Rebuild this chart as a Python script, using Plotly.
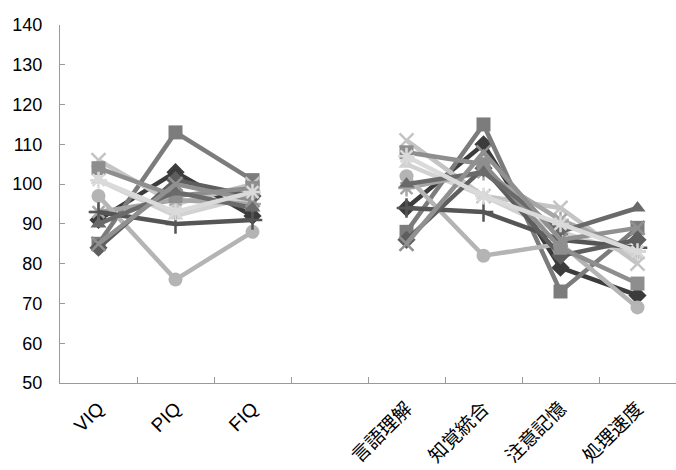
import plotly.graph_objects as go

# Category axis: IQ scores, a spacer slot, then the four index scores
categories = ["VIQ", "PIQ", "FIQ", "", "言語理解", "知覚統合", "注意記憶", "処理速度"]

# One profile per case: VIQ, PIQ, FIQ | 言語理解, 知覚統合, 注意記憶, 処理速度
case01 = [91, 103, 92, None, 94, 110, 79, 72]
case02 = [85, 113, 101, None, 88, 115, 73, 89]
case03 = [101, 92, 97, None, 105, 97, 88, 82]
case04 = [106, 95, 100, None, 111, 97, 94, 80]
case05 = [93, 96, 95, None, 99, 103, 91, 83]
case06 = [97, 76, 88, None, 102, 82, 85, 69]
case07 = [93, 90, 91, None, 94, 93, 86, 84]
case08 = [84, 101, 97, None, 86, 104, 82, 86]
case09 = [104, 97, 99, None, 108, 105, 84, 75]
case10 = [90, 98, 94, None, 100, 103, 88, 94]
case11 = [85, 100, 96, None, 85, 108, 86, 89]
case12 = [101, 93, 98, None, 107, 97, 90, 83]

series = [
    ("case01", case01, "diamond", "#3c3c3c", False),
    ("case02", case02, "square", "#7c7c7c", False),
    ("case03", case03, "triangle-up", "#d2d2d2", False),
    ("case04", case04, "x-thin-open", "#c4c4c4", True),
    ("case05", case05, "asterisk-open", "#a6a6a6", True),
    ("case06", case06, "circle", "#b4b4b4", False),
    ("case07", case07, "cross-thin-open", "#555555", True),
    ("case08", case08, "diamond", "#5e5e5e", False),
    ("case09", case09, "square", "#8e8e8e", False),
    ("case10", case10, "triangle-up", "#6a6a6a", False),
    ("case11", case11, "x-thin-open", "#909090", True),
    ("case12", case12, "asterisk-open", "#dadada", True),
]

x_pos = list(range(len(categories)))

fig = go.Figure()
for name, vals, sym, col, is_open in series:
    marker = dict(symbol=sym, size=14, color=col)
    if is_open:
        marker["line"] = dict(color=col, width=2.5)
    fig.add_trace(go.Scatter(
        x=x_pos, y=vals, mode="lines+markers", name=name,
        line=dict(color=col, width=4.5),
        marker=marker, showlegend=False, connectgaps=False,
    ))

# invisible trace on the overlay axis so it renders its boundary ticks
fig.add_trace(go.Scatter(x=[0], y=[None], xaxis="x2", showlegend=False,
                         hoverinfo="skip"))

font_family = "Arial, 'Liberation Sans', 'Noto Sans CJK JP', sans-serif"

fig.update_layout(
    width=676, height=470,
    margin=dict(l=60, r=0, t=25, b=87),
    paper_bgcolor="white", plot_bgcolor="white",
    font=dict(family=font_family, color="black"),
    xaxis=dict(
        range=[-0.5, 7.5], tickmode="array", tickvals=x_pos,
        ticktext=categories, tickangle=-45, ticks="",
        tickfont=dict(size=19, family=font_family),
        ticklabelstandoff=6,
        showline=True, linecolor="#9a9a9a", linewidth=1,
        showgrid=False, zeroline=False,
    ),
    xaxis2=dict(
        overlaying="x", matches="x", range=[-0.5, 7.5],
        tickmode="array", tickvals=[0.5, 1.5, 2.5, 3.5, 4.5, 5.5, 6.5],
        ticks="inside", ticklen=6, tickcolor="#9a9a9a", tickwidth=1,
        showticklabels=False, showline=False, showgrid=False,
        zeroline=False, side="bottom",
    ),
    yaxis=dict(
        range=[50, 140], tickmode="linear", tick0=50, dtick=10,
        ticks="inside", ticklen=5, tickcolor="#9a9a9a",
        tickfont=dict(size=18, family=font_family),
        ticklabelstandoff=13,
        showline=True, linecolor="#9a9a9a", linewidth=1,
        showgrid=False, zeroline=False,
    ),
)

fig.write_html("out.html")
